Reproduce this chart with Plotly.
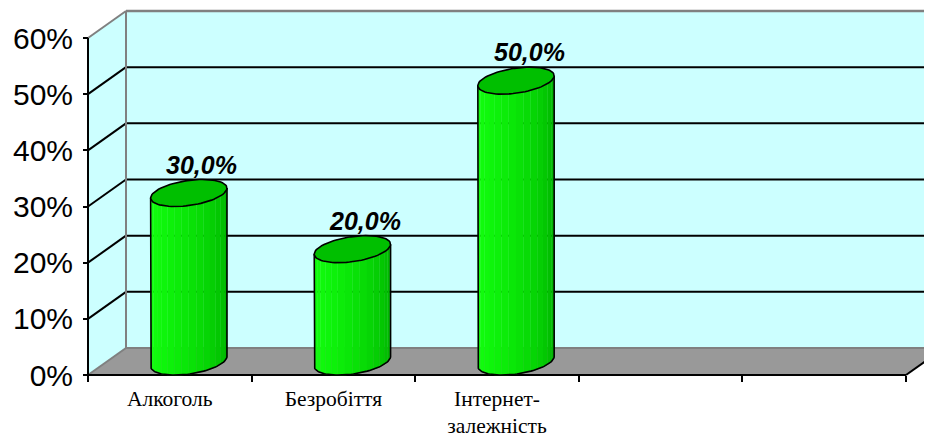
import numpy as np
import plotly.graph_objects as go

# ---------------- data ----------------
categories = ["Алкоголь", "Безробіття", "Інтернет-<br>залежність"]
values = [30.0, 20.0, 50.0]
n_slots = 5
y_tick_vals = [0, 10, 20, 30, 40, 50, 60]
y_tick_text = ["0%", "10%", "20%", "30%", "40%", "50%", "60%"]
y_max = 60

# ---------------- layout geometry (page pixels) ----------------
PAGE_W, PAGE_H = 932, 441
OFF = 8                      # default body margin of the html page
W, H = PAGE_W - OFF, PAGE_H - OFF
plot_left, plot_right = 78, PAGE_W
plot_top, plot_bottom = OFF, 383
ML, MR = plot_left - OFF, 0
MT, MB = plot_top - OFF, PAGE_H - plot_bottom

axis_px = 88          # page x of front vertical axis
base_px = 375         # page y of front floor edge
sx = 818 / n_slots    # px per category slot
sy = 337 / y_max      # px per percent
depth_dx_px, depth_dy_px = 38, 27

x_lo = -(axis_px - plot_left) / sx
x_hi = (plot_right - axis_px) / sx
y_lo = -(plot_bottom - base_px) / sy
y_hi = (base_px - plot_top) / sy
DX = depth_dx_px / sx
DY = depth_dy_px / sy

WALL = "#CCFFFF"
FLOOR = "#999999"
EDGE = "#808080"

shapes = []


def poly(pts, fill, line_color=None, width=0):
    d = "M " + " L ".join(f"{x},{y}" for x, y in pts) + " Z"
    return dict(type="path", path=d, xref="x", yref="y", fillcolor=fill,
                line=dict(width=width, color=line_color or fill), layer="below")


def seg(x0, y0, x1, y1, color, width=2):
    return dict(type="line", x0=x0, y0=y0, x1=x1, y1=y1, xref="x", yref="y",
                line=dict(color=color, width=width), layer="below")


# back wall, side wall, floor
shapes.append(poly([(DX, DY), (DX, y_max + DY), (n_slots + DX + 1, y_max + DY),
                    (n_slots + DX + 1, DY)], WALL))
shapes.append(poly([(0, 0), (0, y_max), (DX, y_max + DY), (DX, DY)], WALL))
shapes.append(poly([(0, 0), (n_slots, 0), (n_slots + DX, DY), (DX, DY)], FLOOR))

# gridlines
for v in y_tick_vals[1:-1]:
    shapes.append(seg(DX, v + DY, n_slots + DX, v + DY, "#000000", 2))
    shapes.append(seg(0, v, DX, v + DY, "#000000", 2))

# wall edges (grey)
shapes.append(seg(DX, y_max + DY, n_slots + DX, y_max + DY, EDGE, 2.5))
shapes.append(seg(0, y_max, DX, y_max + DY, EDGE, 2))
shapes.append(seg(DX, DY, DX, y_max + DY, EDGE, 2))
shapes.append(seg(DX, DY, n_slots + DX, DY, EDGE, 2))
shapes.append(seg(0, 0, DX, DY, EDGE, 2))

# front axis lines (black)
shapes.append(seg(0, 0, 0, y_max, "#000000", 2))
shapes.append(seg(0, 0, n_slots, 0, "#000000", 2))
shapes.append(seg(n_slots, 0, n_slots + DX, DY, "#000000", 2))

fig = go.Figure()

# ---------------- cylinders ----------------
A_PX, B_PX, C_PX = 35.5, 14.0, 13.5
A = A_PX / sx
B = B_PX / sx
C = C_PX / sy
phi = np.arctan2(B_PX, A_PX)


def ell(cx, cy, t):
    return cx + A * np.cos(t) + B * np.sin(t), cy + C * np.sin(t)


N = 16
for i, v in enumerate(values):
    cx = i + 0.5 + DX / 2
    cy_b = DY / 2
    cy_t = v + DY / 2
    tk = np.linspace(np.pi + phi, 2 * np.pi + phi, N + 1)
    for k in range(N):
        tt = np.linspace(tk[k], tk[k + 1], 4)
        xt, yt = ell(cx, cy_t, tt)
        xb, yb = ell(cx, cy_b, tt[::-1])
        f = k / (N - 1)
        g = int(255 - 80 * f ** 1.6)
        r = int(20 * (1 - f))
        col = f"rgb({r},{g},{int(15 * (1 - f))})"
        fig.add_trace(go.Scatter(x=list(xt) + list(xb), y=list(yt) + list(yb),
                                 fill="toself", fillcolor=col, mode="lines",
                                 line=dict(color=col, width=0.6),
                                 hoverinfo="skip", showlegend=False))
    # outline of side
    tarc = np.linspace(np.pi + phi, 2 * np.pi + phi, 60)
    xb, yb = ell(cx, cy_b, tarc)
    xl, yl = ell(cx, cy_t, np.array([np.pi + phi]))
    xr, yr = ell(cx, cy_t, np.array([2 * np.pi + phi]))
    ox = [xl[0]] + list(xb) + [xr[0]]
    oy = [yl[0]] + list(yb) + [yr[0]]
    fig.add_trace(go.Scatter(x=ox, y=oy, mode="lines",
                             line=dict(color="#000000", width=1.6),
                             hoverinfo="skip", showlegend=False))
    # top ellipse
    tf = np.linspace(0, 2 * np.pi, 80)
    xe, ye = ell(cx, cy_t, tf)
    fig.add_trace(go.Scatter(x=xe, y=ye, fill="toself", fillcolor="#00BF00",
                             mode="lines", line=dict(color="#000000", width=1.6),
                             hoverinfo="skip", showlegend=False))

# ---------------- value labels ----------------
annotations = []
for i, v in enumerate(values):
    cx = i + 0.5 + DX / 2
    txt = f"{v:.1f}".replace(".", ",") + "%"
    annotations.append(dict(x=cx, y=v + DY, xref="x", yref="y",
                            text=f"<b><i>{txt}</i></b>",
                            showarrow=False, xanchor="center", yanchor="middle",
                            xshift=13, yshift=15,
                            font=dict(family="Liberation Sans, Arial", size=25,
                                      color="#000000")))

cat_centers = [i + 0.5 for i in range(len(categories))]

fig.update_layout(
    width=W, height=H,
    margin=dict(l=ML, r=MR, t=MT, b=MB, pad=0),
    paper_bgcolor="white", plot_bgcolor="rgba(0,0,0,0)",
    shapes=shapes, annotations=annotations, showlegend=False,
    xaxis=dict(range=[x_lo, x_hi], anchor="free",
               position=(plot_bottom - base_px) / (plot_bottom - plot_top),
               tickmode="array", tickvals=cat_centers, ticktext=categories,
               ticks="", showgrid=False, zeroline=False, showline=False,
               ticklabelstandoff=8,
               tickfont=dict(family="Liberation Serif, Times New Roman", size=21.5,
                             color="#000000"),
               minor=dict(tickmode="array", tickvals=list(range(n_slots + 1)),
                          ticks="outside", ticklen=6, tickwidth=2, tickcolor="#000000",
                          showgrid=False)),
    yaxis=dict(range=[y_lo, y_hi], anchor="free",
               position=(axis_px - plot_left) / (plot_right - plot_left),
               tickmode="array", tickvals=y_tick_vals, ticktext=y_tick_text,
               ticks="outside", ticklen=5, tickwidth=2, tickcolor="#000000",
               showgrid=False, zeroline=False, showline=False,
               ticklabelstandoff=4,
               tickfont=dict(family="Liberation Sans, Arial", size=30, color="#000000")),
)

fig.write_html("out.html")
